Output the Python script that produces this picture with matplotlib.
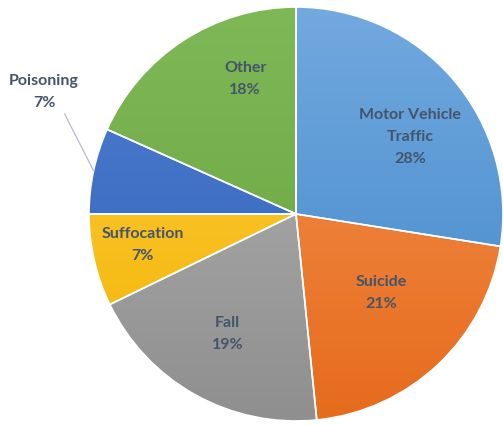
import matplotlib
matplotlib.use("Agg")
import matplotlib.pyplot as plt
import numpy as np
from matplotlib.colors import LinearSegmentedColormap

# share of deaths by cause (clockwise from 12 o'clock)
causes = ["Motor Vehicle\nTraffic", "Suicide", "Fall", "Suffocation", "Poisoning", "Other"]
shares = [27.5, 20.9, 19.4, 7.2, 6.7, 18.3]
pct_labels = ["28%", "21%", "19%", "7%", "7%", "18%"]

# gradient colours (top, bottom) per slice
tops = ["#72a9df", "#f59455", "#b4b4b4", "#ffcd45", "#4f80d3", "#7fb957"]
bottoms = ["#3f86c9", "#e66b1c", "#8f8f8f", "#f2b400", "#2f5fb5", "#66a23e"]

# label centres, in units of the pie radius
label_pos = [(0.55, 0.372), (0.41, -0.382), (-0.33, -0.58),
             (-0.74, -0.15), (-1.217, 0.589), (-0.246, 0.652)]
text_color = "#44546a"

fig = plt.figure(figsize=(5.03, 4.26), dpi=100)
R = 207
ax = fig.add_axes([(296 - R) / 503, (212 - R) / 426, 2 * R / 503, 2 * R / 426])

wedges, _ = ax.pie(shares, startangle=90, counterclock=False, radius=1,
                   wedgeprops=dict(edgecolor="white", linewidth=1.2))

grad = np.linspace(1, 0, 256).reshape(-1, 1)
for w, c0, c1 in zip(wedges, tops, bottoms):
    cmap = LinearSegmentedColormap.from_list("g", [c1, c0])
    w.set_facecolor("none")
    im = ax.imshow(grad, cmap=cmap, extent=[-1, 1, -1, 1], aspect="auto", zorder=0.5)
    im.set_clip_path(w)
    w.set_zorder(1)

ax.set_xlim(-1, 1)
ax.set_ylim(-1, 1)
ax.axis("off")

font = dict(fontsize=11.5, fontweight="bold", color=text_color, family="Lato",
            linespacing=1.7, ha="center", va="center", multialignment="center")

for i, w in enumerate(wedges):
    txt = causes[i] + "\n" + pct_labels[i]
    x, y = label_pos[i]
    if causes[i] == "Poisoning":
        # outside label with a leader line to the slice edge
        mid = np.deg2rad((w.theta1 + w.theta2) / 2)
        ax.annotate(txt, xy=(np.cos(mid), np.sin(mid)), xytext=(x, y),
                    annotation_clip=False,
                    arrowprops=dict(arrowstyle="-", color="#b4bcc8", lw=0.9,
                                    relpos=(0.70, 0.0),
                                    connectionstyle="angle,angleA=0,angleB=117,rad=0",
                                    shrinkA=1, shrinkB=0),
                    **font)
        continue
    ax.text(x, y, txt, **font)

fig.savefig("out.png", dpi=100)
